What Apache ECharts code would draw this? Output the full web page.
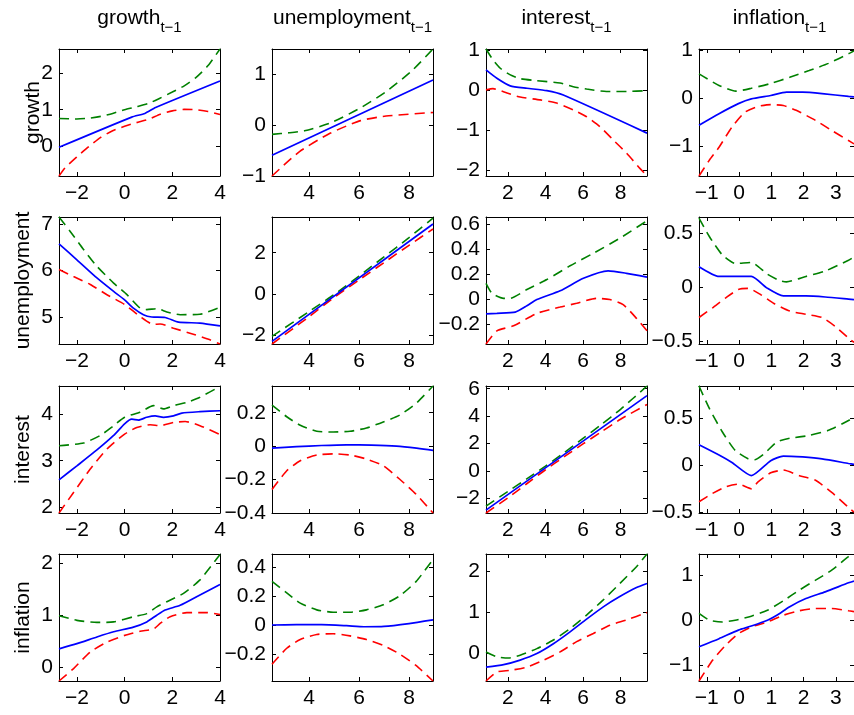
<!DOCTYPE html>
<html><head><meta charset="utf-8">
<script src="https://cdn.jsdelivr.net/npm/echarts@6/dist/echarts.min.js"></script>
<style>html,body{margin:0;padding:0;background:#fff}#c{width:854px;height:715px}</style>
</head><body><div id="c"></div>
<script>
// ---------------- data ----------------
const varNames = ['growth', 'unemployment', 'interest', 'inflation'];
const lagSuffix = 't\u22121';

// x extents and ticks per column (lagged variable)
const xExtent_growth = [-2.75, 4];
const xExtent_unemployment = [2.52, 8.96];
const xExtent_interest = [0.83, 9.41];
const xExtent_inflation = [-1.24, 3.56];
const xTicks_growth = [-2, 0, 2, 4];
const xTicks_unemployment = [4, 6, 8];
const xTicks_interest = [2, 4, 6, 8];
const xTicks_inflation = [-1, 0, 1, 2, 3];

// y extents and ticks per row (response) for the four columns
const yExtent_growth = [[-0.8, 2.65], [-1.0, 1.5], [-2.15, 1.02], [-1.63, 1.02]];
const yExtent_unemployment = [[4.42, 7.15], [-2.42, 3.73], [-0.355, 0.66], [-0.525, 0.65]];
const yExtent_interest = [[1.88, 4.6], [-0.4, 0.36], [-3.05, 6.2], [-0.51, 0.85]];
const yExtent_inflation = [[-0.27, 2.18], [-0.385, 0.488], [-0.67, 2.43], [-1.35, 1.47]];
const yTicks_growth = [[0, 1, 2], [-1, 0, 1], [-2, -1, 0, 1], [-1, 0, 1]];
const yTicks_unemployment = [[5, 6, 7], [-2, 0, 2], [-0.2, 0, 0.2, 0.4, 0.6], [-0.5, 0, 0.5]];
const yTicks_interest = [[2, 3, 4], [-0.4, -0.2, 0, 0.2], [-2, 0, 2, 4, 6], [-0.5, 0, 0.5]];
const yTicks_inflation = [[0, 1, 2], [-0.2, 0, 0.2, 0.4], [0, 1, 2], [-1, 0, 1]];

// row growth
const gr_gr_upper = [[-2.75,0.76],[-2,0.75],[-1.5,0.77],[-1,0.82],[-0.5,0.9],[0,1.0],[0.5,1.08],[1,1.17],[1.5,1.32],[2,1.48],[2.5,1.65],[3,1.88],[3.5,2.2],[4,2.65]];
const gr_gr_mean = [[-2.75,-0.02],[0.3,0.8],[0.85,0.9],[1.3,1.06],[4,1.78]];
const gr_gr_lower = [[-2.75,-0.8],[-2.5,-0.58],[-2,-0.28],[-1.5,0.0],[-1,0.25],[-0.5,0.43],[0,0.55],[0.5,0.65],[1,0.74],[1.5,0.88],[2,0.97],[2.5,1.01],[3,1.0],[3.5,0.95],[4,0.87]];
const gr_un_upper = [[2.52,-0.18],[3.2,-0.15],[3.82,-0.11],[4.84,0.04],[6.06,0.34],[7.08,0.66],[8.09,1.06],[8.96,1.5]];
const gr_un_mean = [[2.52,-0.59],[8.96,0.89]];
const gr_un_lower = [[2.52,-1.0],[3.62,-0.52],[4.84,-0.16],[6.06,0.09],[7.08,0.18],[8.96,0.25]];
const gr_in_upper = [[0.83,1.02],[1.2,0.75],[1.59,0.54],[2.1,0.38],[2.65,0.28],[3.54,0.23],[4.78,0.17],[5.48,0.08],[6.19,0.02],[7.25,-0.04],[8.32,-0.04],[9.41,-0.02]];
const gr_in_mean = [[0.83,0.5],[1.41,0.29],[2.12,0.1],[3.01,0.04],[4.07,-0.02],[4.95,-0.13],[9.41,-1.08]];
const gr_in_lower = [[0.83,0.0],[1.2,0.03],[1.95,-0.08],[2.65,-0.18],[3.72,-0.25],[4.6,-0.33],[5.48,-0.5],[6.19,-0.67],[6.9,-0.92],[7.61,-1.25],[8.32,-1.58],[9.03,-1.96],[9.41,-2.15]];
const gr_if_upper = [[-1.24,0.5],[-0.62,0.26],[-0.1,0.14],[0.38,0.2],[0.98,0.3],[1.57,0.43],[2.17,0.57],[2.77,0.72],[3.39,0.92],[3.56,0.98]];
const gr_if_mean = [[-1.24,-0.57],[-0.62,-0.33],[-0.02,-0.12],[0.38,-0.02],[0.98,0.05],[1.47,0.12],[1.97,0.12],[2.57,0.09],[3.39,0.03],[3.56,0.02]];
const gr_if_lower = [[-1.24,-1.63],[-0.92,-1.3],[-0.62,-1.03],[-0.22,-0.61],[0.18,-0.3],[0.58,-0.18],[0.98,-0.14],[1.37,-0.16],[1.77,-0.26],[2.37,-0.47],[2.87,-0.68],[3.39,-0.89],[3.56,-0.96]];

// row unemployment
const un_gr_upper = [[-2.75,7.15],[-2.28,6.84],[-1.72,6.45],[-1.16,6.09],[-0.46,5.73],[0.1,5.48],[0.65,5.19],[0.93,5.16],[1.35,5.18],[1.77,5.11],[2.33,5.05],[3.16,5.06],[4,5.21]];
const un_gr_mean = [[-2.75,6.57],[-2.0,6.23],[-1.16,5.84],[-0.46,5.55],[0,5.37],[0.37,5.19],[0.79,5.05],[1.14,5.0],[1.7,4.99],[2.26,4.89],[3.16,4.87],[4,4.81]];
const un_gr_lower = [[-2.75,6.02],[-2.14,5.87],[-1.44,5.7],[-0.74,5.48],[0,5.27],[0.65,5.01],[1.21,4.84],[1.49,4.85],[2.05,4.76],[2.88,4.63],[3.58,4.51],[4,4.42]];
const un_un_upper = [[2.52,-2.05],[4,-0.85],[5,-0.03],[6,0.87],[7,1.8],[8,2.73],[8.96,3.68]];
const un_un_mean = [[2.52,-2.29],[8.96,3.39]];
const un_un_lower = [[2.52,-2.42],[4,-1.1],[5,-0.17],[6,0.68],[7,1.52],[8,2.36],[8.96,3.15]];
const un_in_upper = [[0.83,0.13],[1.15,0.05],[1.77,0.01],[2.12,0.01],[3.01,0.08],[4.07,0.16],[5.31,0.27],[6.55,0.37],[7.96,0.49],[9.41,0.63]];
const un_in_mean = [[0.83,-0.115],[1.41,-0.11],[2.39,-0.1],[3.01,-0.05],[3.54,0.0],[4.78,0.07],[6.02,0.17],[7.34,0.23],[8.32,0.21],[9.41,0.18]];
const un_in_lower = [[0.83,-0.355],[1.41,-0.25],[2.3,-0.21],[3.54,-0.11],[4.78,-0.06],[5.66,-0.03],[6.72,0.01],[7.43,0.0],[8.14,-0.04],[8.85,-0.15],[9.41,-0.25]];
const un_if_upper = [[-1.24,0.64],[-0.92,0.47],[-0.52,0.3],[-0.12,0.22],[0.38,0.23],[0.88,0.12],[1.27,0.06],[1.47,0.05],[2.07,0.1],[2.67,0.15],[3.39,0.25],[3.56,0.28]];
const un_if_mean = [[-1.24,0.19],[-0.62,0.1],[-0.12,0.1],[0.38,0.1],[0.88,-0.01],[1.37,-0.08],[2.07,-0.08],[2.67,-0.09],[3.39,-0.11],[3.56,-0.115]];
const un_if_lower = [[-1.24,-0.28],[-0.82,-0.19],[-0.42,-0.1],[-0.02,-0.02],[0.28,-0.01],[0.68,-0.07],[1.08,-0.15],[1.57,-0.22],[2.07,-0.25],[2.57,-0.28],[2.97,-0.36],[3.39,-0.47],[3.56,-0.51]];

// row interest
const in_gr_upper = [[-2.75,3.32],[-1.72,3.38],[-1.02,3.54],[-0.46,3.75],[0,3.93],[0.65,4.04],[1.21,4.18],[1.63,4.11],[2.05,4.18],[2.61,4.25],[3.16,4.36],[4,4.59]];
const in_gr_mean = [[-2.75,2.59],[-2.0,2.89],[-1.16,3.23],[-0.46,3.54],[0,3.79],[0.3,3.89],[0.58,3.87],[0.93,3.93],[1.28,3.96],[1.63,3.93],[2.05,3.96],[2.4,4.02],[3.16,4.05],[4,4.07]];
const in_gr_lower = [[-2.75,1.88],[-2.14,2.32],[-1.44,2.82],[-0.74,3.25],[0,3.57],[0.51,3.71],[1.07,3.77],[1.49,3.75],[2.05,3.82],[2.54,3.84],[3.16,3.75],[4,3.56]];
const in_un_upper = [[2.52,0.246],[3.11,0.176],[3.65,0.125],[4.31,0.089],[4.97,0.085],[5.64,0.089],[6.3,0.109],[6.97,0.145],[7.63,0.186],[8.29,0.257],[8.96,0.36]];
const in_un_mean = [[2.52,-0.012],[3.5,-0.003],[4.5,0.004],[5.5,0.008],[6.5,0.006],[7.5,0.0],[8.3,-0.012],[8.96,-0.025]];
const in_un_lower = [[2.52,-0.259],[3.11,-0.147],[3.65,-0.087],[4.31,-0.053],[4.97,-0.046],[5.64,-0.053],[6.3,-0.077],[6.97,-0.117],[7.63,-0.198],[8.29,-0.289],[8.96,-0.4]];
const in_in_upper = [[0.83,-2.55],[2,-1.48],[3,-0.57],[4,0.36],[5,1.35],[6,2.38],[7,3.42],[8,4.5],[9.41,6.2]];
const in_in_mean = [[0.83,-2.84],[9.41,5.5]];
const in_in_lower = [[0.83,-3.05],[2,-1.95],[3,-0.92],[4,0.1],[5,1.05],[6,1.98],[7,2.88],[8,3.78],[9.41,4.85]];
const in_if_upper = [[-1.24,0.85],[-0.92,0.61],[-0.52,0.36],[-0.12,0.16],[0.28,0.07],[0.48,0.06],[0.78,0.125],[1.17,0.25],[1.57,0.29],[2.17,0.32],[2.77,0.375],[3.39,0.48],[3.56,0.52]];
const in_if_mean = [[-1.24,0.22],[-0.62,0.11],[-0.22,0.03],[0.38,-0.11],[0.98,0.05],[1.37,0.1],[1.97,0.09],[2.57,0.07],[3.39,0.02],[3.56,0.01]];
const in_if_lower = [[-1.24,-0.39],[-0.82,-0.3],[-0.42,-0.23],[-0.02,-0.2],[0.38,-0.25],[0.58,-0.18],[0.98,-0.08],[1.37,-0.05],[1.87,-0.11],[2.37,-0.16],[2.87,-0.29],[3.39,-0.45],[3.56,-0.5]];

// row inflation
const if_gr_upper = [[-2.75,0.99],[-2.0,0.9],[-1.16,0.86],[-0.46,0.87],[0.37,0.97],[0.93,1.03],[1.35,1.16],[1.77,1.26],[2.47,1.42],[3.16,1.68],[4,2.17]];
const if_gr_mean = [[-2.75,0.35],[-2.0,0.45],[-1.16,0.58],[-0.46,0.68],[0.37,0.77],[0.93,0.87],[1.35,1.0],[1.7,1.1],[2.33,1.19],[3.16,1.39],[4,1.59]];
const if_gr_lower = [[-2.75,-0.27],[-2.14,-0.03],[-1.44,0.29],[-0.74,0.48],[0,0.61],[0.65,0.69],[1.21,0.73],[1.49,0.84],[1.91,0.97],[2.61,1.05],[3.44,1.05],[4,1.01]];
const if_un_upper = [[2.52,0.3],[3.11,0.22],[3.65,0.15],[4.31,0.104],[4.97,0.088],[5.64,0.088],[6.3,0.104],[6.97,0.139],[7.63,0.2],[8.29,0.3],[8.96,0.45]];
const if_un_mean = [[2.52,0.0],[3.5,0.002],[4.5,0.002],[5.5,-0.005],[6.2,-0.012],[7,-0.01],[8,0.01],[8.96,0.035]];
const if_un_lower = [[2.52,-0.27],[3.11,-0.16],[3.65,-0.1],[4.31,-0.065],[4.97,-0.06],[5.64,-0.075],[6.3,-0.1],[6.97,-0.14],[7.63,-0.2],[8.29,-0.28],[8.96,-0.385]];
const if_in_upper = [[0.83,0.04],[1.41,-0.08],[2.03,-0.11],[2.65,-0.04],[3.54,0.12],[4.42,0.33],[5.31,0.61],[6.19,0.94],[7.08,1.31],[7.96,1.71],[8.85,2.12],[9.41,2.43]];
const if_in_mean = [[0.83,-0.33],[1.77,-0.27],[2.65,-0.16],[3.54,0.0],[4.42,0.24],[5.31,0.53],[6.19,0.84],[7.08,1.14],[7.96,1.39],[8.85,1.61],[9.41,1.71]];
const if_in_lower = [[0.83,-0.67],[1.41,-0.45],[2.12,-0.41],[3.01,-0.33],[3.9,-0.16],[4.78,0.04],[5.66,0.29],[6.55,0.49],[7.43,0.69],[8.32,0.82],[9.41,1.0]];
const if_if_upper = [[-1.24,0.15],[-0.92,0.0],[-0.52,-0.04],[-0.12,0.0],[0.38,0.09],[0.88,0.22],[1.37,0.43],[1.87,0.67],[2.37,0.89],[2.87,1.11],[3.39,1.41],[3.56,1.47]];
const if_if_mean = [[-1.24,-0.59],[-0.62,-0.41],[-0.02,-0.22],[0.38,-0.13],[0.88,0.0],[1.17,0.11],[1.57,0.3],[2.07,0.48],[2.67,0.63],[3.39,0.83],[3.56,0.87]];
const if_if_lower = [[-1.24,-1.35],[-0.82,-0.89],[-0.42,-0.56],[-0.02,-0.3],[0.38,-0.15],[0.88,-0.04],[1.37,0.11],[1.87,0.21],[2.37,0.26],[2.87,0.26],[3.39,0.21],[3.56,0.19]];

// ---------------- assembly ----------------
const xExtents = [xExtent_growth, xExtent_unemployment, xExtent_interest, xExtent_inflation];
const xTicks = [xTicks_growth, xTicks_unemployment, xTicks_interest, xTicks_inflation];
const yExtents = [yExtent_growth, yExtent_unemployment, yExtent_interest, yExtent_inflation];
const yTicks = [yTicks_growth, yTicks_unemployment, yTicks_interest, yTicks_inflation];
const panels = [
  [[gr_gr_upper, gr_gr_mean, gr_gr_lower], [gr_un_upper, gr_un_mean, gr_un_lower], [gr_in_upper, gr_in_mean, gr_in_lower], [gr_if_upper, gr_if_mean, gr_if_lower]],
  [[un_gr_upper, un_gr_mean, un_gr_lower], [un_un_upper, un_un_mean, un_un_lower], [un_in_upper, un_in_mean, un_in_lower], [un_if_upper, un_if_mean, un_if_lower]],
  [[in_gr_upper, in_gr_mean, in_gr_lower], [in_un_upper, in_un_mean, in_un_lower], [in_in_upper, in_in_mean, in_in_lower], [in_if_upper, in_if_mean, in_if_lower]],
  [[if_gr_upper, if_gr_mean, if_gr_lower], [if_un_upper, if_un_mean, if_un_lower], [if_in_upper, if_in_mean, if_in_lower], [if_if_upper, if_if_mean, if_if_lower]]
];

const FONT = '"Liberation Sans", Arial, Helvetica, sans-serif';
const FS = 21;
const colLeft = [59, 272, 486, 699];
const rowTop = [49, 217, 386, 554];
const W = 161, H = 127;
const fmt = v => (v < 0 ? '\u2212' + String(Math.abs(v)) : String(v));
const styles = [
  {color: '#008000', width: 1.6, type: [10, 6]},
  {color: '#0000ff', width: 1.7, type: 'solid'},
  {color: '#ff0000', width: 1.6, type: [10, 6]}
];

const option = {animation: false, backgroundColor: '#ffffff', grid: [], xAxis: [], yAxis: [], series: [], graphic: []};

function axisBase(gi, ext, ticks, pos, labels, margin) {
  return {
    type: 'value', gridIndex: gi, position: pos, min: ext[0], max: ext[1],
    axisLine: {show: true, onZero: false, lineStyle: {color: '#000', width: 1}},
    axisTick: {show: true, inside: true, length: 4, customValues: ticks, lineStyle: {color: '#000', width: 1}},
    axisLabel: {show: labels, customValues: ticks, formatter: fmt, margin: margin, color: '#000', fontSize: FS, fontFamily: FONT},
    splitLine: {show: false}, axisPointer: {show: false}
  };
}

for (let r = 0; r < 4; r++) {
  for (let c = 0; c < 4; c++) {
    const gi = r * 4 + c;
    option.grid.push({left: colLeft[c], top: rowTop[r], width: W, height: H});
    option.xAxis.push(axisBase(gi, xExtents[c], xTicks[c], 'bottom', true, 7));
    option.xAxis.push(axisBase(gi, xExtents[c], xTicks[c], 'top', false, 7));
    option.yAxis.push(axisBase(gi, yExtents[r][c], yTicks[r][c], 'left', true, 6));
    option.yAxis.push(axisBase(gi, yExtents[r][c], yTicks[r][c], 'right', false, 6));
    const order = [0, 2, 1];
    order.forEach(k => {
      option.series.push({
        type: 'line', xAxisIndex: 2 * gi, yAxisIndex: 2 * gi,
        data: panels[r][c][k], showSymbol: false, symbol: 'none', smooth: 0.2,
        lineStyle: styles[k], silent: true, z: k === 1 ? 3 : 2
      });
    });
  }
}

// titles with subscript
const cv = document.createElement('canvas').getContext('2d');
function tw(text, size) { cv.font = size + 'px ' + FONT; return cv.measureText(text).width; }
for (let c = 0; c < 4; c++) {
  const center = colLeft[c] + W / 2;
  const wm = tw(varNames[c], FS), ws = tw(lagSuffix, 15);
  const x0 = center - (wm + ws) / 2;
  option.graphic.push({type: 'text', x: x0, y: 18, style: {text: varNames[c], fill: '#000', font: FS + 'px ' + FONT, textAlign: 'left', textVerticalAlign: 'middle'}});
  option.graphic.push({type: 'text', x: x0 + wm, y: 28, style: {text: lagSuffix, fill: '#000', font: '15px ' + FONT, textAlign: 'left', textVerticalAlign: 'middle'}});
}
// row labels
const rowLabelX = [33, 23, 23, 23];
for (let r = 0; r < 4; r++) {
  option.graphic.push({type: 'text', x: rowLabelX[r], y: rowTop[r] + H / 2, rotation: Math.PI / 2,
    style: {text: varNames[r], fill: '#000', font: FS + 'px ' + FONT, textAlign: 'center', textVerticalAlign: 'middle'}});
}

const chart = echarts.init(document.getElementById('c'), null, {renderer: 'canvas'});
chart.setOption(option);
</script></body></html>
